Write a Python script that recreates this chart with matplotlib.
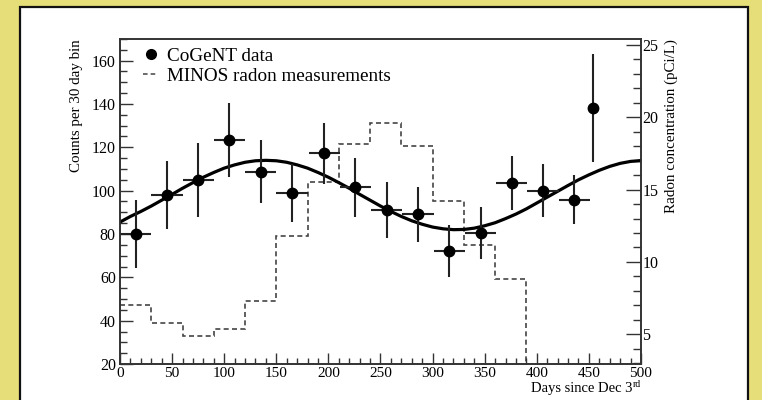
import matplotlib
matplotlib.use("Agg")
import matplotlib.pyplot as plt
from matplotlib.lines import Line2D
from matplotlib.patches import Rectangle
from matplotlib.ticker import MultipleLocator

plt.rcParams['font.family'] = ['Liberation Serif', 'DejaVu Serif']

# CoGeNT counts per 30 day bin
days = [15, 45, 75, 105, 135, 165, 196, 226, 256, 286, 316, 346, 376, 406, 436, 454]
counts = [80, 98, 105, 123.4, 108.8, 99, 117.2, 101.5, 91, 89, 72.3, 80.3, 103.4, 100, 95.7, 138]
counts_err = [15.5, 15.5, 17, 17, 14.6, 13.5, 14, 13.6, 12.9, 12.6, 12, 12, 12.5, 12.3, 11.3, 25]
days_err = [15, 15, 15, 15, 15, 15, 15, 15, 15, 15, 15, 15, 15, 15, 15, 4]

# annual modulation fit, every 10 days
fit_days = list(range(0, 510, 10))
fit_counts = [85.5, 88.1, 90.4, 92.9, 95.6, 98.3, 101.1, 103.7, 106.2, 108.4,
              110.4, 111.9, 113.1, 113.8, 114.0, 113.8, 113.1, 111.9, 110.4, 108.4,
              106.2, 103.7, 101.1, 98.3, 95.6, 92.9, 90.4, 88.1, 86.1, 84.5,
              83.2, 82.4, 82.0, 82.1, 82.7, 83.8, 85.2, 87.1, 89.2, 91.6,
              94.3, 97.0, 99.7, 102.4, 105.0, 107.3, 109.4, 111.2, 112.6, 113.5,
              113.9]

# MINOS radon (pCi/L), 30 day bins
radon_edges = [0, 30, 60, 90, 120, 150, 180, 210, 240, 270, 300, 330, 360, 390, 420]
radon = [7.0, 5.75, 4.9, 5.35, 7.3, 11.8, 15.5, 18.15, 19.6, 18.0, 14.2, 11.2, 8.8, 0.0]

fig = plt.figure(figsize=(7.62, 4.0), dpi=100)
fig.patch.set_facecolor('#e6de78')
# white panel with dark frame
fig.patches.append(Rectangle((20 / 762, -0.05), 728 / 762, 1.05 - 7 / 400,
                             transform=fig.transFigure, facecolor='white',
                             edgecolor='#111111', linewidth=1.6, zorder=-5))

ax = fig.add_axes([120 / 762, 36 / 400, 521 / 762, 325 / 400])
ax.set_xlim(0, 500)
ax.set_ylim(20, 170)
ax.xaxis.set_major_locator(MultipleLocator(50))
ax.xaxis.set_minor_locator(MultipleLocator(10))
ax.yaxis.set_major_locator(MultipleLocator(20))
ax.yaxis.set_minor_locator(MultipleLocator(5))
ax.tick_params(which='both', direction='in', top=False, right=False,
               labelsize=11.5, width=1.0, color='#333333')
ax.tick_params(axis='y', which='major', length=9, pad=3)
ax.tick_params(axis='y', which='minor', length=5)
ax.tick_params(axis='x', which='major', length=8, pad=2, labelsize=11)
ax.tick_params(axis='x', which='minor', length=4)
for s in ax.spines.values():
    s.set_linewidth(1.2)
    s.set_color('#333333')

ax2 = ax.twinx()
ax2.set_ylim(2.95, 25.4)
ax2.yaxis.set_major_locator(MultipleLocator(5))
ax2.yaxis.set_minor_locator(MultipleLocator(1))
ax2.tick_params(which='both', direction='in', labelsize=11.5, width=1.0,
                color='#333333', pad=1)
ax2.tick_params(which='major', length=11)
ax2.tick_params(which='minor', length=6)
for s in ax2.spines.values():
    s.set_linewidth(1.2)
    s.set_color('#333333')

ax2.stairs(radon, radon_edges, baseline=None, color='#444444',
           linewidth=1.2, linestyle=(0, (3, 2)))

ax.set_zorder(ax2.get_zorder() + 1)
ax.patch.set_visible(False)

ax.plot(fit_days, fit_counts, color='black', linewidth=2.3)
ax.errorbar(days, counts, yerr=counts_err, xerr=days_err, fmt='o', ms=7.5,
            color='black', ecolor='#222222', elinewidth=1.5, capsize=0)

ax.set_ylabel('Counts per 30 day bin', fontsize=10.8, loc='top')
ax.yaxis.set_label_coords(-0.071, 1.0)
ax2.set_ylabel('Radon concentration (pCi/L)', fontsize=10.8, loc='top')
ax2.yaxis.set_label_coords(1.046, 1.0)

# x title, with the "rd" as a small raised text
ax.text(0.984, -0.054, 'Days since Dec 3', transform=ax.transAxes,
        ha='right', va='top', fontsize=10.5)
ax.text(0.985, -0.05, 'rd', transform=ax.transAxes,
        ha='left', va='top', fontsize=7)

handles = [Line2D([], [], marker='o', ms=7, color='black', linestyle='none'),
           Line2D([], [], color='#444444', linewidth=1.1, linestyle=(0, (3, 2)))]
ax.legend(handles, ['CoGeNT data', 'MINOS radon measurements'], loc='upper left',
          bbox_to_anchor=(0.044, 0.975), frameon=False, fontsize=13.8,
          handlelength=0.8, handletextpad=0.45, labelspacing=0.15,
          borderpad=0, borderaxespad=0)

fig.savefig('out.png', dpi=100, facecolor=fig.get_facecolor())
